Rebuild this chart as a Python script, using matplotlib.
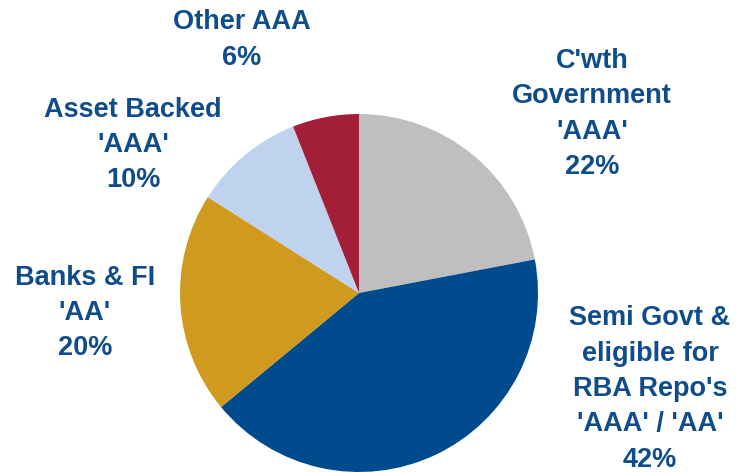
import matplotlib
matplotlib.use('Agg')
import matplotlib.pyplot as plt

labels = ["C'wth\nGovernment\n'AAA'", "Semi Govt &\neligible for\nRBA Repo's\n'AAA' / 'AA'",
          "Banks & FI\n'AA'", "Asset Backed\n'AAA'", "Other AAA"]
shares = [22, 42, 20, 10, 6]
colors = ['#BFBFBF', '#004B8D', '#D09A1F', '#C0D3EE', '#A21F37']
# label centres in figure pixels (x, y from top)
label_pos = [(592, 114), (650, 389), (85, 313), (133, 145), (242, 40)]

W, H = 737, 472
fig = plt.figure(figsize=(W / 100, H / 100), dpi=100)
fig.patch.set_facecolor('white')

cx, cy, r = 359, 293, 179
ax = fig.add_axes([(cx - r) / W, (H - cy - r) / H, 2 * r / W, 2 * r / H])
ax.pie(shares, colors=colors, startangle=90, counterclock=False, radius=1,
       wedgeprops=dict(linewidth=0))
ax.set_xlim(-1, 1)
ax.set_ylim(-1, 1)
ax.set_aspect('equal')
ax.axis('off')

txt_color = '#0F4C8C'
for lab, val, (x, y) in zip(labels, shares, label_pos):
    fig.text(x / W, 1 - y / H, f"{lab}\n{val}%", ha='center', va='center',
             fontsize=19.5, fontweight='bold', color=txt_color,
             family='Liberation Sans', linespacing=1.47)

fig.savefig('out.png', dpi=100)
